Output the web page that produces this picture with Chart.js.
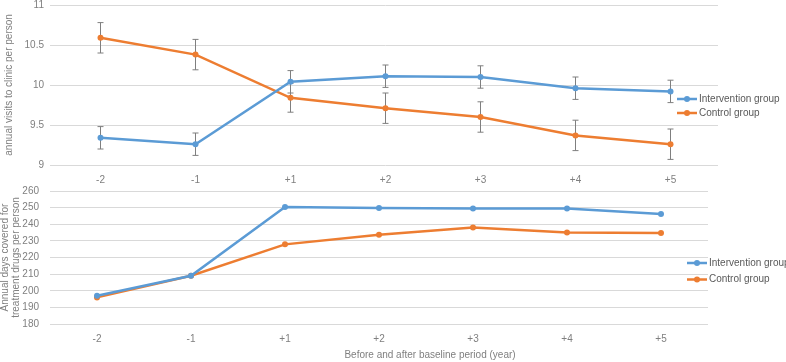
<!DOCTYPE html>
<html>
<head>
<meta charset="utf-8">
<script src="https://cdn.jsdelivr.net/npm/chart.js@4"></script>
<style>
  html, body { margin: 0; padding: 0; background: #fff; }
  #top { position: absolute; left: 0; top: 0; }
  #bottom { position: absolute; left: 0; top: 186px; }
</style>
</head>
<body>
<canvas id="top" width="786" height="188"></canvas>
<canvas id="bottom" width="786" height="176"></canvas>
<script>
// data
const years = ["-2", "-1", "+1", "+2", "+3", "+4", "+5"];
const seriesNames = ["Intervention group", "Control group"];

const visitsIntervention = [9.34, 9.26, 10.04, 10.11, 10.10, 9.96, 9.92];
const visitsControl = [10.59, 10.38, 9.84, 9.71, 9.60, 9.37, 9.26];
const visitsInterventionErr = [0.14, 0.14, 0.14, 0.14, 0.14, 0.14, 0.14];
const visitsControlErr = [0.19, 0.19, 0.18, 0.19, 0.19, 0.19, 0.19];

const daysIntervention = [197, 209, 250.4, 249.8, 249.5, 249.5, 246.2];
const daysControl = [196, 209, 227.9, 233.7, 238.1, 235.1, 234.7];

const blue = "#5b9bd5";
const orange = "#ed7d31";
const FONT = "'Liberation Sans', Arial, sans-serif";

Chart.defaults.font.family = FONT;
Chart.defaults.font.size = 10;
Chart.defaults.color = "#7f7f7f";

function series(label, data, color, errs) {
  return {
    label: label,
    data: data,
    errors: errs,
    borderColor: color,
    backgroundColor: color,
    borderWidth: 2.5,
    pointRadius: 3,
    pointBorderWidth: 0,
    pointHoverRadius: 3,
    tension: 0
  };
}

// grey error bars with caps
const errorBars = {
  id: "errorBars",
  beforeDatasetsDraw(chart) {
    const ctx = chart.ctx;
    const y = chart.scales.y;
    ctx.save();
    ctx.strokeStyle = "#7f7f7f";
    ctx.lineWidth = 1;
    chart.data.datasets.forEach((ds, i) => {
      if (!ds.errors) return;
      const meta = chart.getDatasetMeta(i);
      meta.data.forEach((pt, j) => {
        const v = ds.data[j], e = ds.errors[j];
        const y1 = y.getPixelForValue(v + e), y2 = y.getPixelForValue(v - e);
        ctx.beginPath();
        ctx.moveTo(pt.x, y1); ctx.lineTo(pt.x, y2);
        ctx.moveTo(pt.x - 3, y1); ctx.lineTo(pt.x + 3, y1);
        ctx.moveTo(pt.x - 3, y2); ctx.lineTo(pt.x + 3, y2);
        ctx.stroke();
      });
    });
    ctx.restore();
  }
};

// legend with line + marker, placed like the original
const sideLegend = {
  id: "sideLegend",
  afterDraw(chart, args, opts) {
    const ctx = chart.ctx;
    ctx.save();
    ctx.font = "10px " + FONT;
    ctx.textBaseline = "middle";
    ctx.textAlign = "left";
    chart.data.datasets.forEach((ds, i) => {
      const yy = opts.y + i * opts.gap;
      ctx.strokeStyle = ds.borderColor;
      ctx.fillStyle = ds.borderColor;
      ctx.lineWidth = 2.5;
      ctx.beginPath();
      ctx.moveTo(opts.x, yy); ctx.lineTo(opts.x + 20, yy);
      ctx.stroke();
      ctx.beginPath();
      ctx.arc(opts.x + 10, yy, 3, 0, Math.PI * 2);
      ctx.fill();
      ctx.fillStyle = "#595959";
      ctx.fillText(ds.label, opts.x + 22, yy);
    });
    if (opts.xTitle) {
      ctx.fillStyle = "#7f7f7f";
      ctx.textAlign = "center";
      ctx.fillText(opts.xTitle, opts.titleX, opts.titleY);
    }
    ctx.restore();
  }
};

const plainNum = v => String(Number(v.toFixed(2)));

const topChart = new Chart(document.getElementById("top"), {
  type: "line",
  data: {
    labels: years,
    datasets: [
      series(seriesNames[0], visitsIntervention, blue, visitsInterventionErr),
      series(seriesNames[1], visitsControl, orange, visitsControlErr)
    ]
  },
  plugins: [errorBars, sideLegend],
  options: {
    responsive: false,
    animation: false,
    layout: { padding: { top: 5, right: 68, left: 0, bottom: 0 } },
    plugins: {
      legend: { display: false },
      tooltip: { enabled: false },
      sideLegend: { x: 677, y: 99, gap: 14 }
    },
    scales: {
      x: {
        offset: true,
        grid: { display: false, drawTicks: false },
        border: { display: false },
        ticks: { padding: 9 },
        afterFit(s) { s.height = 23; s.paddingLeft = 0; s.paddingRight = 0; }
      },
      y: {
        min: 9,
        max: 11,
        ticks: { stepSize: 0.5, padding: 6, callback: plainNum },
        grid: { color: "#d9d9d9", tickLength: 3 },
        border: { display: false },
        title: {
          display: true,
          text: "annual visits to clinic per person",
          color: "#7f7f7f",
          padding: { top: 3, bottom: 0 }
        },
        afterFit(s) { s.width = 53; s.paddingTop = 0; s.paddingBottom = 0; }
      }
    }
  }
});

const bottomChart = new Chart(document.getElementById("bottom"), {
  type: "line",
  data: {
    labels: years,
    datasets: [
      series(seriesNames[0], daysIntervention, blue),
      series(seriesNames[1], daysControl, orange)
    ]
  },
  plugins: [sideLegend],
  options: {
    responsive: false,
    animation: false,
    layout: { padding: { top: 5, right: 78, left: 0, bottom: 0 } },
    plugins: {
      legend: { display: false },
      tooltip: { enabled: false },
      sideLegend: {
        x: 687, y: 77, gap: 16.5,
        xTitle: "Before and after baseline period (year)", titleX: 430, titleY: 169
      }
    },
    scales: {
      x: {
        offset: true,
        grid: { display: false, drawTicks: false },
        border: { display: false },
        ticks: { padding: 9 },
        afterFit(s) { s.height = 38; s.paddingLeft = 0; s.paddingRight = 0; }
      },
      y: {
        min: 180,
        max: 260,
        ticks: { stepSize: 10, padding: 11 },
        grid: { color: "#d9d9d9", drawTicks: false },
        border: { display: false },
        title: {
          display: true,
          text: ["Annual days covered for", "treatment drugs per person"],
          color: "#7f7f7f",
          font: { lineHeight: 1.1 },
          padding: { top: 0, bottom: 0 }
        },
        afterFit(s) { s.width = 50; s.paddingTop = 0; s.paddingBottom = 0; }
      }
    }
  }
});
</script>
</body>
</html>
